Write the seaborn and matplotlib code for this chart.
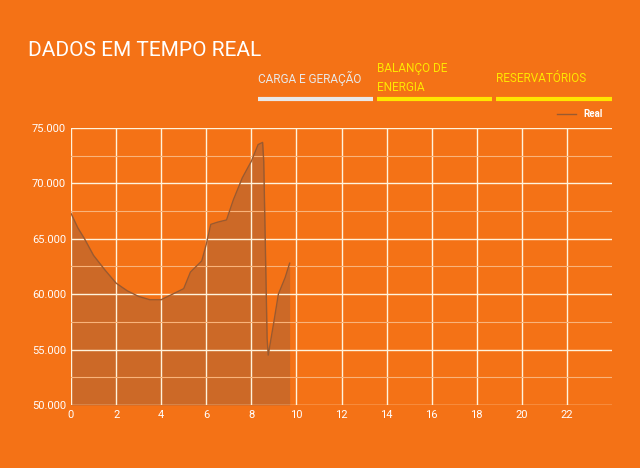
import matplotlib.pyplot as plt
import seaborn as sns
import pandas as pd

hours = [0, 0.3, 0.6, 1, 1.5, 2, 2.5, 3, 3.5, 4, 4.5, 5, 5.3, 5.8, 6, 6.2, 6.5, 6.9,
         7.2, 7.6, 8, 8.3, 8.5, 8.55, 8.7, 8.75, 9.0, 9.2, 9.5, 9.7]
real = [67300, 66000, 65000, 63500, 62200, 61000, 60300, 59800, 59500, 59500, 60000,
        60500, 62000, 63000, 64500, 66300, 66500, 66700, 68500, 70500, 72000, 73500,
        73700, 72000, 56000, 54500, 57500, 60000, 61500, 62800]
tabs = ["CARGA E GERAÇÃO", "BALANÇO DE\nENERGIA", "RESERVATÓRIOS"]
tab_colors = ["#e8e8e8", "#ffe600", "#ffe600"]

df = pd.DataFrame({"hora": hours, "Real": real})
orange = "#f47216"
plt.rcParams["font.family"] = "Roboto"
fig = plt.figure(figsize=(6.4, 4.68), dpi=100, facecolor=orange)
ax = fig.add_axes([71/640, 63/468, 541/640, 277/468], facecolor=orange)

ax.fill_between(df["hora"], df["Real"], 50000, color="#c8682a", alpha=0.9, lw=0)
sns.lineplot(data=df, x="hora", y="Real", ax=ax, color="#9a5a30", lw=1, label="Real")

ax.set_xlim(0, 24)
ax.set_ylim(50000, 75000)
ax.set_xticks(range(0, 24, 2))
ax.set_yticks(range(50000, 75001, 5000))
ax.set_yticks(range(52500, 75000, 5000), minor=True)
ax.set_yticklabels([f"{v:,}".replace(",", ".") for v in range(50000, 75001, 5000)])
ax.grid(True, which="major", color="#fff3dc", lw=1)
ax.grid(True, which="minor", axis="y", color="#f9b37a", lw=0.8)
ax.tick_params(colors="white", labelsize=8, length=0, which="both")
for s in ax.spines.values():
    s.set_visible(False)
ax.set_xlabel("")
ax.set_ylabel("")
leg = ax.legend(loc="lower right", bbox_to_anchor=(1.0, 1.0), frameon=False,
                prop={"size": 7, "weight": "bold"}, labelcolor="white", handlelength=2)

fig.text(28/640, 1 - 50/468, "DADOS EM TEMPO REAL", color="white", fontsize=15,
         va="center")
xs = [(258, 373), (377, 492), (496, 612)]
for (x0, x1), t, c in zip(xs, tabs, tab_colors):
    fig.text(x0/640, 1 - 78/468, t, color=c, fontsize=8.5, va="center", linespacing=1.6)
    fig.add_artist(plt.Line2D([x0/640, x1/640], [1 - 99/468] * 2, color=c, lw=3,
                              solid_capstyle="butt"))

fig.savefig("out.png", dpi=100, facecolor=orange)
